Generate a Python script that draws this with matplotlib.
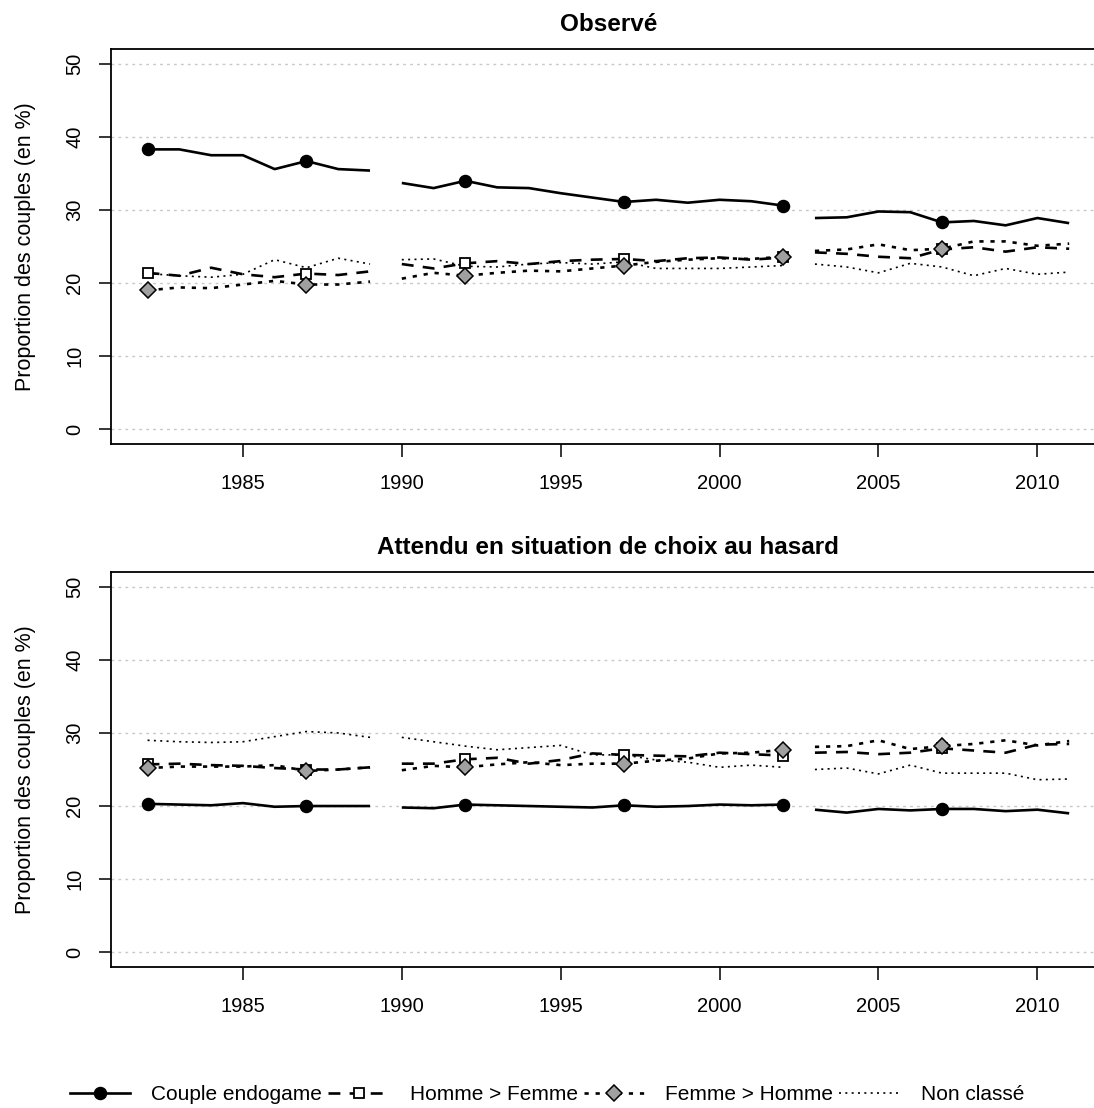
import numpy as np
import matplotlib
matplotlib.use("Agg")
import matplotlib.pyplot as plt
from matplotlib.lines import Line2D

plt.rcParams['font.family'] = ['Liberation Sans', 'DejaVu Sans']

years = list(range(1982, 2012))
# survey periods: the series are broken between them
periods = [(1982, 1989), (1990, 2002), (2003, 2011)]

# Observé
obs_endogame = [38.3, 38.3, 37.5, 37.5, 35.6, 36.7, 35.6, 35.4,
                33.7, 33.0, 34.0, 33.1, 33.0, 32.3, 31.7, 31.1, 31.4, 31.0, 31.4, 31.2, 30.6,
                28.9, 29.0, 29.8, 29.7, 28.3, 28.5, 27.9, 28.9, 28.2]
obs_homme = [21.4, 21.0, 22.1, 21.2, 20.8, 21.3, 21.1, 21.6,
             22.6, 22.0, 22.7, 23.0, 22.6, 23.0, 23.2, 23.3, 23.0, 23.4, 23.5, 23.2, 23.5,
             24.2, 24.0, 23.6, 23.4, 24.6, 24.9, 24.3, 24.9, 24.7]
obs_femme = [19.0, 19.4, 19.3, 19.8, 20.3, 19.8, 19.8, 20.2,
             20.6, 21.4, 21.0, 21.4, 21.7, 21.6, 22.0, 22.4, 22.9, 23.2, 23.4, 23.3, 23.6,
             24.4, 24.6, 25.3, 24.5, 24.7, 25.7, 25.7, 25.1, 25.4]
obs_nonclasse = [21.3, 21.0, 20.8, 21.2, 23.2, 22.1, 23.4, 22.6,
                 23.2, 23.3, 22.3, 22.2, 22.6, 22.8, 22.6, 22.9, 22.0, 22.0, 22.0, 22.2, 22.4,
                 22.6, 22.2, 21.4, 22.7, 22.2, 21.0, 22.0, 21.2, 21.5]

# Attendu en situation de choix au hasard
att_endogame = [20.3, 20.2, 20.1, 20.4, 19.9, 20.0, 20.0, 20.0,
                19.8, 19.7, 20.2, 20.1, 20.0, 19.9, 19.8, 20.1, 19.9, 20.0, 20.2, 20.1, 20.2,
                19.5, 19.1, 19.6, 19.4, 19.6, 19.6, 19.3, 19.5, 19.0]
att_homme = [25.7, 25.8, 25.6, 25.5, 25.2, 25.0, 25.0, 25.3,
             25.8, 25.8, 26.4, 26.6, 25.8, 26.3, 27.2, 27.0, 26.9, 26.8, 27.3, 27.1, 26.9,
             27.3, 27.4, 27.1, 27.3, 27.9, 27.6, 27.3, 28.4, 28.5]
att_femme = [25.2, 25.4, 25.4, 25.4, 25.6, 24.8, 25.0, 25.3,
             24.9, 25.5, 25.3, 25.7, 26.0, 25.6, 25.8, 25.8, 26.2, 26.5, 27.2, 27.3, 27.7,
             28.1, 28.2, 29.0, 27.8, 28.2, 28.5, 29.0, 28.3, 28.9]
att_nonclasse = [29.0, 28.8, 28.7, 28.8, 29.5, 30.2, 30.0, 29.4,
                 29.4, 28.8, 28.2, 27.7, 28.0, 28.3, 27.0, 27.0, 26.3, 26.0, 25.3, 25.6, 25.3,
                 25.0, 25.2, 24.4, 25.6, 24.5, 24.5, 24.5, 23.6, 23.7]

marker_years = [1982, 1987, 1992, 1997, 2002, 2007]

styles = {
    'Couple endogame': dict(color='black', lw=1.9, ls='-', marker='o', ms=8.7,
                            mfc='black', mec='black'),
    'Homme > Femme': dict(color='black', lw=1.9, dashes=(4.5, 3.5), marker='s', ms=7.8,
                          mfc='white', mec='black', mew=1.3),
    'Femme > Homme': dict(color='black', lw=1.9, dashes=(1.6, 2.6), marker='D', ms=8.2,
                          mfc='#a0a0a0', mec='black', mew=1.1),
    'Non classé': dict(color='black', lw=1.2, dashes=(1.2, 2.6), marker=None),
}


def draw_panel(ax, series, title):
    yrs = np.array(years)
    for k, (name, vals) in enumerate(series):
        st = dict(styles[name])
        vals = np.array(vals)
        marker = st.pop('marker')
        ms = st.pop('ms', None)
        mfc = st.pop('mfc', None)
        mec = st.pop('mec', None)
        mew = st.pop('mew', 1.0)
        for a, b in periods:
            m = (yrs >= a) & (yrs <= b)
            ax.plot(yrs[m], vals[m], solid_capstyle='butt', dash_capstyle='butt',
                    zorder=2 + k * 0.1, **st)
        if marker:
            mk = np.isin(yrs, marker_years)
            ax.plot(yrs[mk], vals[mk], ls='none', marker=marker, ms=ms,
                    mfc=mfc, mec=mec, mew=mew, zorder=5 + k * 0.1)
    for g in range(0, 60, 10):
        ax.axhline(g, color='#c8c8c8', lw=1.0, dashes=(2, 3), zorder=0)
    ax.set_xlim(1980.84, 2012.16)
    ax.set_ylim(-2, 52)
    ax.set_xticks(range(1985, 2011, 5))
    ax.set_yticks(range(0, 51, 10))
    ax.tick_params(axis='both', direction='out', length=9, width=1.1, labelsize=14.5)
    ax.tick_params(axis='x', pad=13)
    ax.tick_params(axis='y', labelrotation=90, pad=10)
    for lab in ax.get_yticklabels():
        lab.set_va('center')
    for sp in ax.spines.values():
        sp.set_linewidth(1.3)
    ax.set_ylabel('Proportion des couples (en %)', fontsize=15.5, labelpad=21)
    ax.set_title(title, fontsize=17.5, fontweight='bold', pad=13)


fig = plt.figure(figsize=(10.94, 11.08), dpi=100)
ax1 = fig.add_axes([0.1012, 0.5995, 0.9098, 0.356])
ax2 = fig.add_axes([0.1012, 0.1275, 0.9098, 0.356])

draw_panel(ax1, [('Couple endogame', obs_endogame), ('Homme > Femme', obs_homme),
                 ('Femme > Homme', obs_femme), ('Non classé', obs_nonclasse)],
           'Observé')
draw_panel(ax2, [('Couple endogame', att_endogame), ('Homme > Femme', att_homme),
                 ('Femme > Homme', att_femme), ('Non classé', att_nonclasse)],
           'Attendu en situation de choix au hasard')

handles = []
for name in ['Couple endogame', 'Homme > Femme', 'Femme > Homme', 'Non classé']:
    st = dict(styles[name])
    handles.append(Line2D([], [], label=name, dash_capstyle='butt', **st))

fig.legend(handles=handles, loc='center', bbox_to_anchor=(0.5, 0.012), ncol=4,
           frameon=False, fontsize=15, numpoints=1, handlelength=2.9,
           handletextpad=1.0, columnspacing=0.3)

fig.savefig('out.png', dpi=100)
